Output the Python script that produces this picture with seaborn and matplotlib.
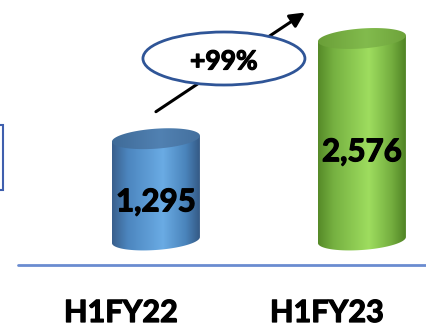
import numpy as np
import matplotlib
matplotlib.use("Agg")
import matplotlib.pyplot as plt
import matplotlib.patheffects as pe
from matplotlib.colors import LinearSegmentedColormap
from matplotlib.patches import Polygon, Ellipse, Rectangle
import seaborn as sns

# Half-year totals
categories = ["H1FY22", "H1FY23"]
values = [1295, 2576]
value_labels = ["1,295", "2,576"]
growth_label = "+99%"

sns.set_theme(style="white")
plt.rcParams["font.family"] = ["Lato", "DejaVu Sans"]

W, H = 426, 328
fig = plt.figure(figsize=(W / 100, H / 100), dpi=100)
ax = fig.add_axes([0, 0, 1, 1])

sns.barplot(x=categories, y=values, width=0.427, errorbar=None, ax=ax, color="white")

XLIM = (-0.757, 1.311)
YLIM = (-1125, 3068)
dx = (XLIM[1] - XLIM[0]) / W   # data units per pixel, horizontal
dy = (YLIM[1] - YLIM[0]) / H   # data units per pixel, vertical

body_stops = [
    [(0, "#395f8c"), (0.18, "#4c86bf"), (0.58, "#6aabe4"), (0.84, "#4a84bb"), (1, "#345985")],
    [(0, "#568a28"), (0.18, "#76b141"), (0.58, "#9edd5f"), (0.84, "#74ae3f"), (1, "#508324")],
]
top_stops = [
    [(0, "#3f6b98"), (0.55, "#5181b2"), (1, "#44709e")],
    [(0, "#6a9f38"), (0.55, "#82bb4d"), (1, "#6ea33b")],
]

heavy = [pe.withStroke(linewidth=0.9, foreground="black")]

b = 10 * dy      # half height of the cylinder ellipses
s = 3 * dy       # perspective tilt of the ellipses
t_low = np.linspace(np.pi, 2 * np.pi, 80)
t_all = np.linspace(0, 2 * np.pi, 160)
grad = np.linspace(0, 1, 256)[None, :]

bars = list(ax.patches)
centers = []
for i, p in enumerate(bars):
    p.set_visible(False)
    x0, w, h = p.get_x(), p.get_width(), p.get_height()
    xc, a = x0 + w / 2, w / 2
    centers.append((xc, h))

    # cylinder body: sides plus the lower half of the base ellipse
    arc = np.column_stack([xc + a * np.cos(t_low), b * np.sin(t_low) + s * np.cos(t_low)])
    body_pts = np.vstack([[x0, h - s], arc, [x0 + w, h + s]])
    body = Polygon(body_pts, closed=True, facecolor="none", edgecolor="none")
    ax.add_patch(body)
    cmap = LinearSegmentedColormap.from_list(f"body{i}", body_stops[i])
    im = ax.imshow(grad, cmap=cmap, extent=[x0, x0 + w, -b - s - 5 * dy, h + s],
                   aspect="auto", zorder=2, interpolation="bilinear")
    im.set_clip_path(body)

    # top face
    top_pts = np.column_stack([xc + a * np.cos(t_all),
                               h + b * np.sin(t_all) + s * np.cos(t_all)])
    top = Polygon(top_pts, closed=True, facecolor="none", edgecolor="none")
    ax.add_patch(top)
    tcmap = LinearSegmentedColormap.from_list(f"top{i}", top_stops[i])
    im2 = ax.imshow(grad, cmap=tcmap, extent=[x0, x0 + w, h - b - s, h + b + s],
                    aspect="auto", zorder=3, interpolation="bilinear")
    im2.set_clip_path(top)

    # value label
    ax.text(xc, h / 2 - 13 * dy, value_labels[i], ha="center", va="center",
            fontsize=22.5, fontweight="bold", color="black", zorder=5,
            path_effects=heavy)

    # category label
    ax.text(xc - 35 * dx, YLIM[0] + 15 * dy, categories[i], ha="center", va="center",
            fontsize=22, fontweight="bold", color="black", zorder=5,
            path_effects=heavy)

# baseline
ax.axhline(YLIM[0] + 63 * dy, xmin=18 / W, xmax=1, color="#6a8cd0", lw=2, zorder=1)

# growth arrow and callout
(xa, va_), (xb, vb) = centers
tail = (xa, va_ + 27 * dy)
head = (xb - 57 * dx, vb + 26 * dy)
ax.annotate("", xy=head, xytext=tail,
            arrowprops=dict(arrowstyle="-|>", lw=2.2, color="black",
                            mutation_scale=22, shrinkA=0, shrinkB=0), zorder=6)
ell_c = (xa + 68 * dx, YLIM[0] + 269.5 * dy)
ax.add_patch(Ellipse(ell_c, 162 * dx, 53 * dy, facecolor="white",
                     edgecolor="#2f5597", lw=2, zorder=7))
ax.text(ell_c[0], ell_c[1] - 3 * dy, growth_label, ha="center", va="center",
        fontsize=19, fontweight="bold", color="black", zorder=8,
        path_effects=heavy)

# edge of the neighbouring panel
fig.add_artist(Rectangle((-10 / W, 138 / H), 13 / W, 65 / H, transform=fig.transFigure,
                         facecolor="none", edgecolor="#3f5fae", lw=1.5))

ax.set_xlim(XLIM)
ax.set_ylim(YLIM)
ax.set_axis_off()
fig.savefig("out.png", dpi=100)
